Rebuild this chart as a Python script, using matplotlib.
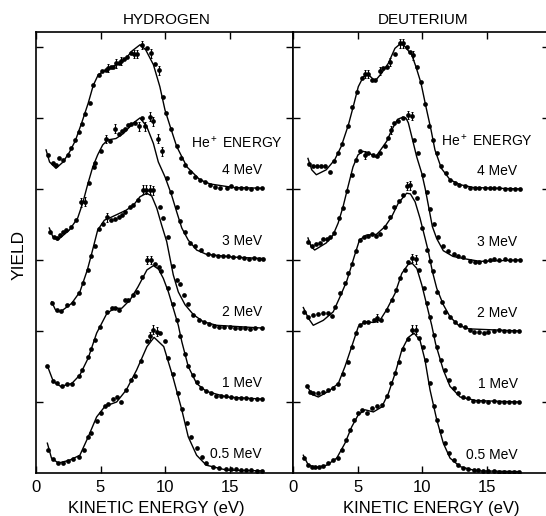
import matplotlib
matplotlib.use('Agg')
import matplotlib.pyplot as plt

plt.rcParams['font.family'] = ['Liberation Sans', 'DejaVu Sans']
plt.rcParams['mathtext.default'] = 'regular'

# He+ energies, one curve per energy, stacked with a vertical offset
ENERGY_LABELS = ['0.5 MeV', '1 MeV', '2 MeV', '3 MeV', '4 MeV']
BASELINES = [0, 1, 2, 3, 4]
X_TICKS = [0, 5, 10, 15]
ERR_HALF = 0.06

# ---------------- HYDROGEN ----------------
# fitted curves (CX, CY) and measured points (X, Y)
H05_CX = [0.88, 1.2, 1.73, 2.6, 3.4, 4.05, 4.7, 5.35, 6.25, 7.0, 7.8, 8.6, 9.15, 9.9, 10.6, 11.3, 11.8, 12.45, 13.2, 14.8, 17.6]
H05_CY = [0.42, 0.21, 0.14, 0.18, 0.25, 0.51, 0.79, 0.94, 1.0, 1.17, 1.45, 1.78, 1.91, 1.78, 1.36, 0.89, 0.51, 0.25, 0.11, 0.04, 0.03]
H05_X = [0.9, 1.3, 1.7, 2.1, 2.5, 2.9, 3.3, 3.7, 4.0, 4.3, 4.7, 5.0, 5.35, 5.6, 6.0, 6.25, 6.6, 7.0, 7.4, 7.7,
         8.1, 8.6, 8.85, 9.1, 9.35, 9.6, 10.0, 10.25, 10.6, 11.0, 11.3, 11.7, 12.05, 12.45, 12.85, 13.2, 13.7, 14.2,
         14.7, 15.1, 15.5, 15.9, 16.3, 16.7, 17.1, 17.5]
H05_Y = [0.32, 0.2, 0.14, 0.14, 0.17, 0.2, 0.23, 0.33, 0.5, 0.56, 0.73, 0.85, 0.94, 0.97, 1.04, 1.07, 1.0, 1.17, 1.31, 1.37,
         1.58, 1.86, 1.93, 2.02, 1.99, 1.97, 1.86, 1.62, 1.4, 1.12, 0.9, 0.71, 0.51, 0.35, 0.22, 0.14, 0.09, 0.07,
         0.06, 0.05, 0.05, 0.04, 0.04, 0.04, 0.03, 0.03]
H05_ERR = [(8.85, 1.93), (9.1, 2.02), (9.35, 1.99)]

H1_CX = [0.88, 1.34, 1.9, 2.77, 3.4, 4.05, 4.7, 5.5, 6.1, 6.65, 7.3, 7.9, 8.6, 9.1, 9.5, 9.87, 10.26, 10.64, 11.03, 11.3, 11.8, 12.45, 13.2, 14.8, 17.6]
H1_CY = [1.51, 1.29, 1.22, 1.26, 1.38, 1.62, 1.97, 2.25, 2.32, 2.32, 2.44, 2.62, 2.86, 2.92, 2.87, 2.74, 2.55, 2.32, 2.08, 1.85, 1.5, 1.26, 1.15, 1.07, 1.04]
H1_X = [0.88, 1.3, 1.6, 2.0, 2.4, 2.77, 3.3, 3.6, 4.0, 4.3, 4.6, 4.97, 5.5, 5.9, 6.15, 6.4, 6.9, 7.15, 7.55, 7.8,
        8.25, 8.6, 8.9, 9.2, 9.5, 9.7, 10.25, 10.6, 10.9, 11.2, 11.55, 11.8, 12.2, 12.45, 12.8, 13.2, 13.6, 13.95,
        14.35, 14.75, 15.1, 15.5, 15.9, 16.3, 16.7, 17.1, 17.5]
H1_Y = [1.51, 1.3, 1.27, 1.22, 1.26, 1.26, 1.36, 1.45, 1.63, 1.75, 1.87, 2.06, 2.27, 2.32, 2.32, 2.3, 2.44, 2.43, 2.5, 2.55,
        2.76, 3.0, 3.0, 2.95, 2.9, 2.85, 2.6, 2.38, 2.16, 1.93, 1.67, 1.5, 1.38, 1.28, 1.2, 1.15, 1.13, 1.09,
        1.08, 1.08, 1.07, 1.06, 1.05, 1.05, 1.04, 1.04, 1.04]
H1_ERR = [(8.6, 3.0), (8.9, 3.0)]

H2_CX = [1.22, 1.5, 1.9, 2.77, 3.4, 3.98, 4.26, 4.78, 5.3, 5.81, 6.98, 7.55, 8.06, 8.58, 8.97, 9.36, 9.74, 10.13, 10.39, 10.64, 11.03, 11.55, 12.2, 12.97, 14.0, 17.6]
H2_CY = [2.41, 2.3, 2.27, 2.39, 2.55, 2.86, 3.05, 3.42, 3.56, 3.6, 3.7, 3.77, 3.89, 3.94, 3.9, 3.73, 3.49, 3.26, 3.02, 2.79, 2.55, 2.37, 2.23, 2.13, 2.08, 2.04]
H2_X = [1.25, 1.6, 1.95, 2.4, 2.9, 3.3, 3.65, 4.0, 4.3, 4.55, 4.9, 5.2, 5.5, 5.85, 6.1, 6.4, 6.65, 6.9, 7.25, 7.55,
        7.9, 8.3, 8.55, 8.8, 9.05, 9.6, 9.87, 10.25, 10.6, 10.9, 11.2, 11.5, 11.8, 12.2, 12.6, 13.0, 13.4, 13.8,
        14.2, 14.6, 15.0, 15.4, 15.8, 16.2, 16.6, 17.0, 17.5]
H2_Y = [2.4, 2.3, 2.28, 2.37, 2.4, 2.53, 2.68, 2.86, 3.06, 3.2, 3.44, 3.5, 3.6, 3.56, 3.57, 3.6, 3.63, 3.68, 3.74, 3.78,
        3.84, 3.99, 3.99, 3.99, 3.98, 3.75, 3.59, 3.33, 2.92, 2.72, 2.66, 2.5, 2.38, 2.22, 2.16, 2.12, 2.1, 2.07,
        2.06, 2.05, 2.06, 2.04, 2.04, 2.04, 2.03, 2.04, 2.04]
H2_ERR = [(5.5, 3.6), (8.3, 3.99), (8.55, 3.99), (8.8, 3.99), (9.05, 3.98)]

H3_CX = [1.03, 1.3, 1.68, 2.58, 3.23, 3.62, 4.0, 4.4, 4.78, 5.17, 5.56, 6.2, 6.77, 7.55, 8.06, 8.58, 9.1, 9.48, 10.0, 10.5, 10.9, 11.3, 11.8, 12.45, 13.2, 15.3, 17.6]
H3_CY = [3.45, 3.33, 3.28, 3.42, 3.59, 3.8, 4.06, 4.31, 4.48, 4.62, 4.69, 4.71, 4.78, 4.93, 5.0, 4.88, 4.64, 4.38, 4.17, 3.92, 3.68, 3.45, 3.28, 3.14, 3.08, 3.04, 3.02]
H3_X = [1.1, 1.4, 1.6, 1.85, 2.1, 2.35, 2.7, 3.1, 3.5, 3.8, 4.1, 4.5, 4.6, 5.0, 5.4, 5.7, 6.15, 6.4, 6.65, 6.9,
        7.15, 7.4, 7.7, 7.95, 8.2, 8.45, 8.84, 9.1, 9.48, 9.74, 10.15, 10.5, 10.9, 11.2, 11.55, 11.95, 12.35, 12.8,
        13.3, 13.7, 14.1, 14.5, 14.9, 15.3, 15.7, 16.1, 16.5, 16.9, 17.3, 17.6]
H3_Y = [3.4, 3.33, 3.31, 3.35, 3.4, 3.42, 3.47, 3.56, 3.81, 3.82, 4.08, 4.31, 4.36, 4.53, 4.7, 4.67, 4.85, 4.78, 4.81, 4.85,
        4.9, 4.92, 4.93, 4.88, 5.0, 4.88, 5.02, 4.95, 4.71, 4.53, 4.15, 3.95, 3.75, 3.55, 3.4, 3.24, 3.19, 3.14,
        3.09, 3.07, 3.06, 3.05, 3.06, 3.04, 3.04, 3.03, 3.02, 3.03, 3.02, 3.02]
H3_ERR = [(3.5, 3.81), (3.8, 3.82), (5.4, 4.7), (6.15, 4.85), (7.95, 4.88), (8.45, 4.88), (8.84, 5.02), (9.1, 4.95), (9.48, 4.71), (9.74, 4.53)]

H4_CX = [0.78, 1.05, 1.55, 2.1, 2.6, 3.05, 3.54, 4.05, 4.44, 4.83, 5.48, 6.25, 6.9, 7.42, 8.06, 8.5, 9.1, 9.6, 10.0, 10.4, 10.9, 11.7, 12.7, 13.5, 15.3, 17.6]
H4_CY = [4.55, 4.38, 4.29, 4.38, 4.52, 4.68, 4.93, 5.21, 5.46, 5.61, 5.68, 5.75, 5.82, 5.94, 6.03, 5.96, 5.75, 5.44, 5.11, 4.88, 4.6, 4.31, 4.13, 4.07, 4.02, 4.01]
H4_X = [0.9, 1.29, 1.55, 1.81, 2.07, 2.45, 2.71, 3.05, 3.3, 3.55, 3.8, 4.15, 4.45, 4.85, 5.1, 5.4, 5.6, 5.8, 6.0, 6.2,
        6.4, 6.6, 6.8, 7.05, 7.35, 7.6, 7.85, 8.19, 8.58, 8.9, 9.25, 9.56, 9.82, 10.1, 10.5, 10.9, 11.25, 11.55,
        11.94, 12.3, 12.7, 13.1, 13.5, 13.9, 14.3, 14.8, 15.1, 15.5, 15.9, 16.3, 16.7, 17.1, 17.5]
H4_Y = [4.48, 4.36, 4.34, 4.43, 4.41, 4.48, 4.57, 4.69, 4.8, 4.92, 5.06, 5.21, 5.46, 5.61, 5.66, 5.68, 5.7, 5.72, 5.72, 5.77,
        5.77, 5.8, 5.83, 5.86, 5.92, 5.9, 5.9, 6.03, 5.98, 5.91, 5.76, 5.67, 5.3, 5.07, 4.85, 4.6, 4.43, 4.34,
        4.24, 4.17, 4.13, 4.1, 4.06, 4.03, 4.02, 4.02, 4.04, 4.02, 4.01, 4.01, 4.0, 4.01, 4.01]
H4_ERR = [(5.6, 5.7), (6.2, 5.77), (6.6, 5.8), (7.6, 5.9), (7.85, 5.9), (8.19, 6.03), (8.9, 5.91), (9.56, 5.67)]

# ---------------- DEUTERIUM ----------------
D05_CX = [0.8, 1.19, 1.84, 2.61, 3.39, 4.03, 4.55, 5.06, 5.58, 6.23, 6.88, 7.39, 7.91, 8.43, 8.94, 9.38, 9.84, 10.23, 10.62, 11.14, 11.65, 12.17, 12.95, 14.2, 17.6]
D05_CY = [0.25, 0.11, 0.08, 0.11, 0.21, 0.42, 0.65, 0.82, 0.89, 0.86, 0.93, 1.12, 1.4, 1.73, 1.91, 1.97, 1.87, 1.59, 1.17, 0.75, 0.42, 0.21, 0.09, 0.03, 0.02]
D05_X = [0.85, 1.2, 1.45, 1.7, 2.05, 2.35, 2.75, 3.1, 3.45, 3.8, 4.1, 4.45, 4.7, 5.0, 5.35, 5.7, 6.1, 6.5, 6.9, 7.25,
         7.6, 7.9, 8.2, 8.55, 8.9, 9.25, 9.5, 9.75, 10.05, 10.3, 10.6, 10.9, 11.15, 11.45, 11.8, 12.1, 12.45, 12.8,
         13.2, 13.6, 14.0, 14.35, 14.75, 15.15, 15.55, 15.95, 16.35, 16.75, 17.1, 17.5]
D05_Y = [0.21, 0.11, 0.09, 0.08, 0.08, 0.1, 0.14, 0.18, 0.21, 0.33, 0.47, 0.61, 0.75, 0.84, 0.89, 0.85, 0.92, 0.94, 0.96, 1.08,
         1.27, 1.41, 1.57, 1.74, 1.88, 2.02, 2.02, 1.9, 1.78, 1.59, 1.27, 0.94, 0.75, 0.59, 0.42, 0.28, 0.18, 0.11,
         0.07, 0.05, 0.04, 0.04, 0.03, 0.03, 0.03, 0.02, 0.02, 0.02, 0.02, 0.02]
D05_ERR = [(9.25, 2.02), (9.5, 2.02)]

D1_CX = [1.11, 1.45, 1.96, 2.74, 3.51, 4.03, 4.55, 5.06, 5.58, 6.23, 6.74, 7.26, 7.91, 8.43, 8.94, 9.25, 9.6, 9.98, 10.36, 10.75, 11.05, 11.65, 12.17, 12.95, 14.2, 17.6]
D1_CY = [1.22, 1.11, 1.07, 1.15, 1.26, 1.5, 1.78, 2.06, 2.13, 2.12, 2.15, 2.3, 2.53, 2.81, 2.94, 2.95, 2.88, 2.65, 2.37, 2.08, 1.82, 1.45, 1.22, 1.07, 1.02, 1.0]
D1_X = [1.1, 1.3, 1.55, 1.95, 2.35, 2.75, 3.1, 3.5, 3.9, 4.25, 4.55, 4.9, 5.2, 5.5, 5.85, 6.25, 6.5, 6.85, 7.25, 7.65,
        8.0, 8.3, 8.65, 8.9, 9.25, 9.5, 9.75, 10.15, 10.4, 10.65, 10.9, 11.15, 11.5, 11.75, 12.1, 12.45, 12.75, 13.15,
        13.55, 13.95, 14.35, 14.75, 15.15, 15.55, 15.95, 16.35, 16.75, 17.1, 17.5]
D1_Y = [1.22, 1.14, 1.13, 1.12, 1.14, 1.17, 1.19, 1.26, 1.4, 1.56, 1.78, 1.97, 2.08, 2.13, 2.13, 2.16, 2.18, 2.15, 2.3, 2.44,
        2.58, 2.74, 2.86, 2.97, 3.03, 3.01, 2.86, 2.6, 2.39, 2.2, 1.94, 1.78, 1.59, 1.45, 1.31, 1.19, 1.12, 1.07,
        1.05, 1.02, 1.01, 1.01, 1.0, 1.01, 1.0, 1.0, 1.0, 1.0, 1.0]
D1_ERR = [(6.5, 2.18), (9.25, 3.03), (9.5, 3.01)]

D2_CX = [0.8, 1.19, 1.57, 2.35, 3.12, 3.64, 4.16, 4.45, 4.75, 5.15, 5.68, 6.46, 7.13, 7.65, 8.16, 8.81, 9.1, 9.46, 9.84, 10.23, 10.49, 10.8, 11.14, 11.65, 12.17, 12.82, 13.6, 17.6]
D2_CY = [2.33, 2.18, 2.08, 2.15, 2.27, 2.48, 2.7, 2.87, 3.05, 3.28, 3.35, 3.36, 3.47, 3.61, 3.8, 3.94, 3.93, 3.82, 3.59, 3.31, 3.12, 2.84, 2.6, 2.37, 2.2, 2.08, 2.03, 2.0]
D2_X = [0.85, 1.2, 1.55, 1.95, 2.35, 2.75, 3.0, 3.25, 3.65, 4.05, 4.3, 4.55, 4.9, 5.2, 5.5, 5.8, 6.1, 6.45, 6.75, 7.15,
        7.5, 7.8, 8.2, 8.55, 8.85, 9.1, 9.35, 9.59, 9.98, 10.36, 10.62, 10.88, 11.14, 11.53, 11.8, 12.2, 12.56, 12.95,
        13.35, 13.75, 14.05, 14.4, 14.8, 15.15, 15.55, 15.95, 16.35, 16.75, 17.1, 17.5]
D2_Y = [2.27, 2.2, 2.22, 2.24, 2.25, 2.25, 2.21, 2.34, 2.53, 2.67, 2.81, 2.95, 3.12, 3.28, 3.33, 3.34, 3.36, 3.34, 3.37, 3.47,
        3.61, 3.75, 3.83, 3.92, 4.04, 4.05, 3.95, 3.87, 3.45, 3.14, 2.98, 2.84, 2.55, 2.41, 2.27, 2.19, 2.12, 2.08,
        2.06, 2.01, 1.99, 1.99, 1.97, 1.99, 2.0, 2.01, 2.0, 2.0, 2.0, 2.0]
D2_ERR = [(8.85, 4.04), (9.1, 4.05)]

D3_CX = [1.16, 1.4, 1.68, 2.58, 3.1, 3.5, 3.88, 4.26, 4.65, 5.04, 5.43, 5.94, 6.4, 6.87, 7.26, 7.65, 8.1, 8.5, 8.75, 8.94, 9.2, 9.59, 9.98, 10.25, 10.5, 10.8, 11.14, 11.65, 12.4, 13.2, 14.5, 17.6]
D3_CY = [3.31, 3.19, 3.14, 3.24, 3.35, 3.52, 3.75, 4.03, 4.31, 4.48, 4.53, 4.5, 4.45, 4.57, 4.67, 4.83, 4.98, 5.01, 5.0, 4.93, 4.74, 4.45, 4.22, 4.0, 3.76, 3.47, 3.3, 3.13, 3.05, 3.02, 2.98, 3.0]
D3_X = [1.2, 1.45, 1.8, 2.1, 2.35, 2.6, 2.9, 3.2, 3.6, 3.9, 4.2, 4.55, 4.9, 5.2, 5.55, 5.8, 6.2, 6.5, 6.75, 7.1,
        7.35, 7.6, 7.85, 8.1, 8.5, 8.94, 9.2, 9.4, 9.71, 10.1, 10.35, 10.6, 10.9, 11.25, 11.65, 12.05, 12.45, 12.8,
        13.2, 13.7, 14.1, 14.45, 14.85, 15.25, 15.6, 16.0, 16.4, 16.8, 17.2, 17.6]
D3_Y = [3.25, 3.2, 3.22, 3.24, 3.29, 3.29, 3.33, 3.38, 3.59, 3.73, 3.97, 4.2, 4.41, 4.53, 4.48, 4.5, 4.48, 4.47, 4.5, 4.6,
        4.72, 4.83, 4.93, 4.95, 5.0, 5.04, 5.03, 4.69, 4.5, 4.2, 3.95, 3.72, 3.5, 3.33, 3.2, 3.13, 3.08, 3.06,
        3.04, 2.99, 2.97, 2.97, 2.99, 3.0, 3.01, 3.0, 3.01, 3.0, 3.0, 3.0]
D3_ERR = [(5.55, 4.48), (7.6, 4.83), (8.94, 5.04), (9.2, 5.03)]

D4_CX = [1.16, 1.45, 1.81, 2.58, 3.23, 3.74, 4.29, 4.67, 5.06, 5.45, 5.84, 6.36, 6.87, 7.39, 7.9, 8.29, 8.6, 9.2, 9.53, 9.92, 10.3, 10.7, 11.0, 11.5, 12.17, 12.95, 14.0, 17.6]
D4_CY = [4.43, 4.27, 4.2, 4.27, 4.41, 4.6, 4.9, 5.16, 5.44, 5.58, 5.61, 5.52, 5.63, 5.77, 5.98, 6.04, 6.02, 5.89, 5.72, 5.49, 5.16, 4.83, 4.55, 4.29, 4.13, 4.06, 4.02, 4.0]
D4_X = [1.27, 1.55, 1.86, 2.2, 2.5, 2.9, 3.2, 3.5, 3.8, 4.3, 4.6, 4.95, 5.35, 5.6, 5.85, 6.1, 6.35, 6.75, 7.0, 7.25,
        7.5, 7.9, 8.3, 8.55, 8.8, 9.05, 9.3, 9.6, 9.95, 10.2, 10.55, 10.85, 11.15, 11.5, 11.85, 12.15, 12.55, 12.9,
        13.3, 13.7, 14.1, 14.45, 14.85, 15.25, 15.6, 16.0, 16.4, 16.8, 17.2, 17.6]
D4_Y = [4.35, 4.33, 4.33, 4.33, 4.32, 4.24, 4.39, 4.5, 4.63, 4.88, 5.16, 5.37, 5.56, 5.62, 5.62, 5.54, 5.54, 5.66, 5.7, 5.72,
        5.79, 5.9, 6.05, 6.05, 6.0, 5.93, 5.88, 5.72, 5.5, 5.2, 4.88, 4.69, 4.5, 4.33, 4.22, 4.13, 4.08, 4.06,
        4.04, 4.02, 4.01, 4.01, 4.01, 4.01, 4.01, 4.01, 4.0, 4.0, 4.0, 4.0]
D4_ERR = [(5.6, 5.62), (5.85, 5.62), (6.75, 5.66), (7.5, 5.79), (8.3, 6.05), (8.55, 6.05), (9.3, 5.88)]

HYDROGEN = [(H05_CX, H05_CY, H05_X, H05_Y, H05_ERR),
            (H1_CX, H1_CY, H1_X, H1_Y, H1_ERR),
            (H2_CX, H2_CY, H2_X, H2_Y, H2_ERR),
            (H3_CX, H3_CY, H3_X, H3_Y, H3_ERR),
            (H4_CX, H4_CY, H4_X, H4_Y, H4_ERR)]
DEUTERIUM = [(D05_CX, D05_CY, D05_X, D05_Y, D05_ERR),
             (D1_CX, D1_CY, D1_X, D1_Y, D1_ERR),
             (D2_CX, D2_CY, D2_X, D2_Y, D2_ERR),
             (D3_CX, D3_CY, D3_X, D3_Y, D3_ERR),
             (D4_CX, D4_CY, D4_X, D4_Y, D4_ERR)]


def draw_panel(ax, curves, xmax, label_x, label_dy, head_x, head_y):
    for (cx, cy, dx, dy, err), base, name in zip(curves, BASELINES, ENERGY_LABELS):
        ax.plot(cx, cy, color='k', lw=1.0, solid_joinstyle='round')
        ax.plot(dx, dy, 'o', color='k', ms=3.4, mew=0)
        ex, ey = zip(*err)
        ax.errorbar(ex, ey, yerr=ERR_HALF, fmt='none', ecolor='k',
                    elinewidth=0.8, capsize=0.8, capthick=0.7)
        ax.text(label_x, base + label_dy, name, ha='right', va='center', fontsize=10)
    ax.text(head_x, head_y, 'He$^+$ ENERGY', ha='right', va='center', fontsize=10)

    ax.set_xlim(0, xmax)
    ax.set_ylim(0, 6.21)
    ax.set_xticks(X_TICKS)
    ax.set_yticks([1, 2, 3, 4, 5, 6])
    ax.set_yticklabels([])
    ax.tick_params(direction='in', top=True, right=True, length=5, width=1.0,
                   labelsize=12, pad=5)
    for s in ax.spines.values():
        s.set_linewidth(1.2)


fig = plt.figure(figsize=(5.46, 5.16), dpi=100)
W, H = 546.0, 516.0
ax1 = fig.add_axes([36 / W, 43 / H, 257 / W, 441 / H])
ax2 = fig.add_axes([293 / W, 43 / H, 256 / W, 441 / H])

draw_panel(ax1, HYDROGEN, 19.92, 17.5, 0.27, 19.1, 4.65)
draw_panel(ax2, DEUTERIUM, 19.84, 17.4, 0.25, 18.6, 4.68)

fig.text(167 / W, 1 - 20 / H, 'HYDROGEN', ha='center', va='center', fontsize=11)
fig.text(423 / W, 1 - 20 / H, 'DEUTERIUM', ha='center', va='center', fontsize=11)
fig.text(19 / W, 1 - 255 / H, 'YIELD', rotation=90, ha='center', va='center', fontsize=12.5)
fig.text(156 / W, 1 - 508 / H, 'KINETIC ENERGY (eV)', ha='center', va='center', fontsize=12)
fig.text(431 / W, 1 - 508 / H, 'KINETIC ENERGY (eV)', ha='center', va='center', fontsize=12)

fig.savefig('out.png', dpi=100)
